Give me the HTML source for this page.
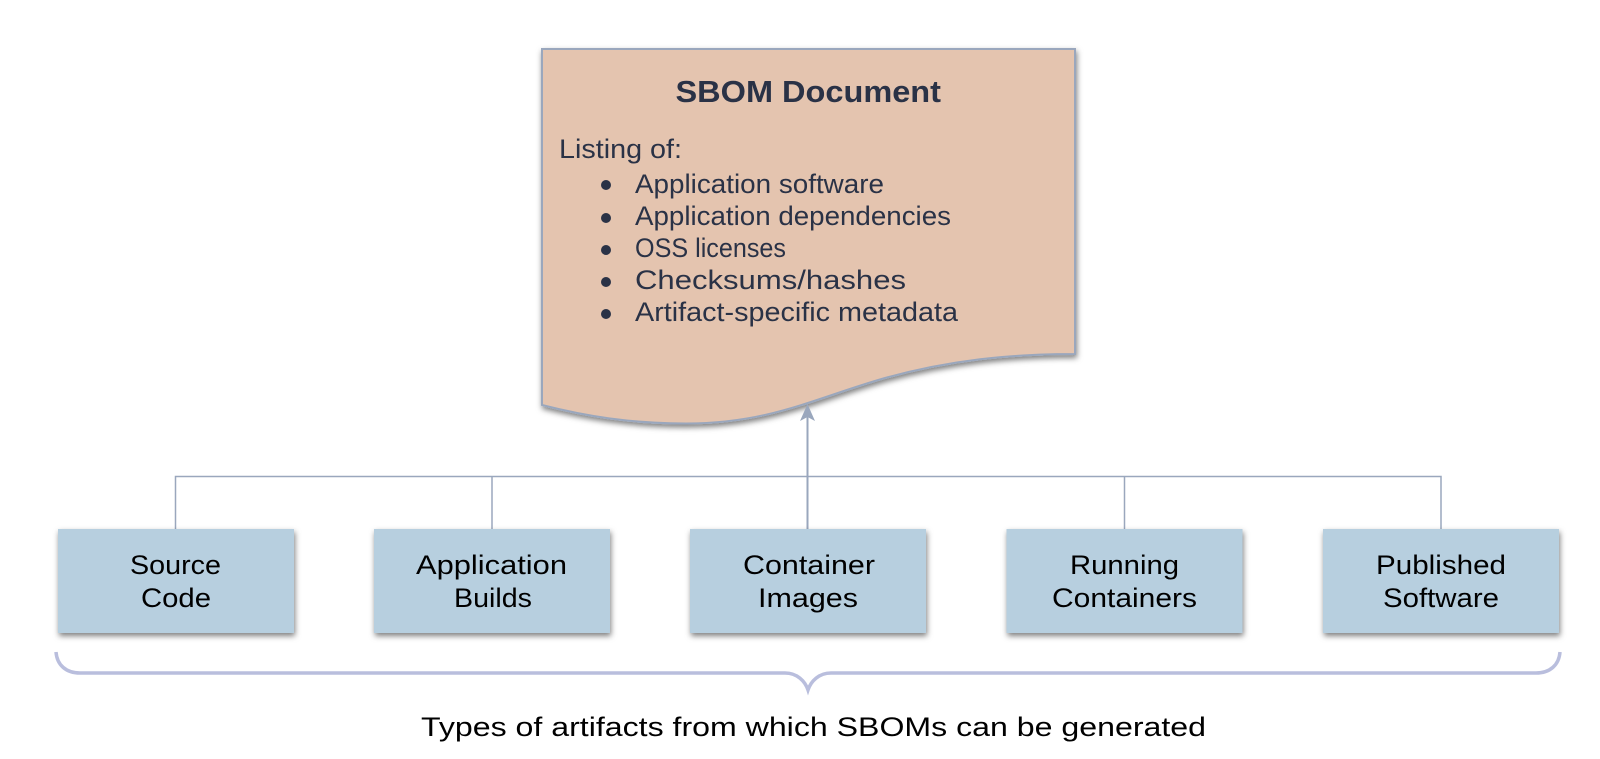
<!DOCTYPE html>
<html>
<head>
<meta charset="utf-8">
<style>
html,body{margin:0;padding:0;background:#fff;width:1600px;height:759px;overflow:hidden}
svg{display:block}
text{font-family:"Liberation Sans",sans-serif;font-size:27px;fill:#000}
.d{fill:#2a3246}
</style>
</head>
<body>
<svg width="1600" height="759" viewBox="0 0 1600 759" xmlns="http://www.w3.org/2000/svg">
<defs>
<filter id="s" x="-5%" y="-5%" width="110%" height="120%"><feDropShadow dx="1" dy="3" stdDeviation="2.8" flood-color="#000" flood-opacity=".5"/></filter>
</defs>
<path d="M542,49 H1075 V354 C1010,354 950,360 885,378 C815,398 770,423.500 686,423.500 C630,423.500 585,416 542,405 Z" fill="#e4c4af" stroke="#9aa7bd" stroke-width="2" filter="url(#s)"/>
<g stroke="#9aa7bd" stroke-width="1.5" fill="none">
<path d="M175.500,529 V476.500 H1441 V529"/>
<path d="M492,476.500 V529"/>
<path d="M1124.500,476.500 V529"/>
</g>
<path d="M807.500,529 V415" stroke="#9aa7bd" stroke-width="2" fill="none"/>
<path d="M807.500,404 L815,421 L807.500,417 L800,421 Z" fill="#9aa7bd"/>
<g fill="#b7cfdf" filter="url(#s)">
<rect x="58" y="529" width="236" height="104"/>
<rect x="374" y="529" width="236" height="104"/>
<rect x="690" y="529" width="236" height="104"/>
<rect x="1006.500" y="529" width="236" height="104"/>
<rect x="1323" y="529" width="236" height="104"/>
</g>
<path d="M56,652 C57,665 66,673 80,673 H785 C797,673 805,681 808,690 C811,681 819,673 831,673 H1536 C1550,673 1559,665 1560,652" fill="none" stroke="#b9bedd" stroke-width="3.500"/>
<text class="d" x="675.500" y="102" textLength="265.500" lengthAdjust="spacingAndGlyphs" style="font-size:31px;font-weight:700">SBOM Document</text>
<text class="d" x="559" y="158" textLength="123" lengthAdjust="spacingAndGlyphs">Listing of:</text>
<g fill="#2a3246">
<circle cx="606" cy="185" r="5"/>
<circle cx="606" cy="218" r="5"/>
<circle cx="606" cy="250" r="5"/>
<circle cx="606" cy="282" r="5"/>
<circle cx="606" cy="314" r="5"/>
</g>
<text class="d" x="635" y="193" textLength="249" lengthAdjust="spacingAndGlyphs">Application software</text>
<text class="d" x="635" y="225" textLength="316" lengthAdjust="spacingAndGlyphs">Application dependencies</text>
<text class="d" x="635" y="257" textLength="151" lengthAdjust="spacingAndGlyphs">OSS licenses</text>
<text class="d" x="635" y="289" textLength="271" lengthAdjust="spacingAndGlyphs">Checksums/hashes</text>
<text class="d" x="635" y="321" textLength="323" lengthAdjust="spacingAndGlyphs">Artifact-specific metadata</text>
<text x="130" y="574" textLength="91" lengthAdjust="spacingAndGlyphs">Source</text>
<text x="141" y="607" textLength="70" lengthAdjust="spacingAndGlyphs">Code</text>
<text x="416" y="574" textLength="151" lengthAdjust="spacingAndGlyphs">Application</text>
<text x="454" y="607" textLength="78" lengthAdjust="spacingAndGlyphs">Builds</text>
<text x="743" y="574" textLength="132" lengthAdjust="spacingAndGlyphs">Container</text>
<text x="758" y="607" textLength="100" lengthAdjust="spacingAndGlyphs">Images</text>
<text x="1070" y="574" textLength="109" lengthAdjust="spacingAndGlyphs">Running</text>
<text x="1052" y="607" textLength="145" lengthAdjust="spacingAndGlyphs">Containers</text>
<text x="1376" y="574" textLength="130" lengthAdjust="spacingAndGlyphs">Published</text>
<text x="1383" y="607" textLength="116" lengthAdjust="spacingAndGlyphs">Software</text>
<text x="421" y="736" textLength="785" lengthAdjust="spacingAndGlyphs">Types of artifacts from which SBOMs can be generated</text>
</svg>
</body>
</html>
